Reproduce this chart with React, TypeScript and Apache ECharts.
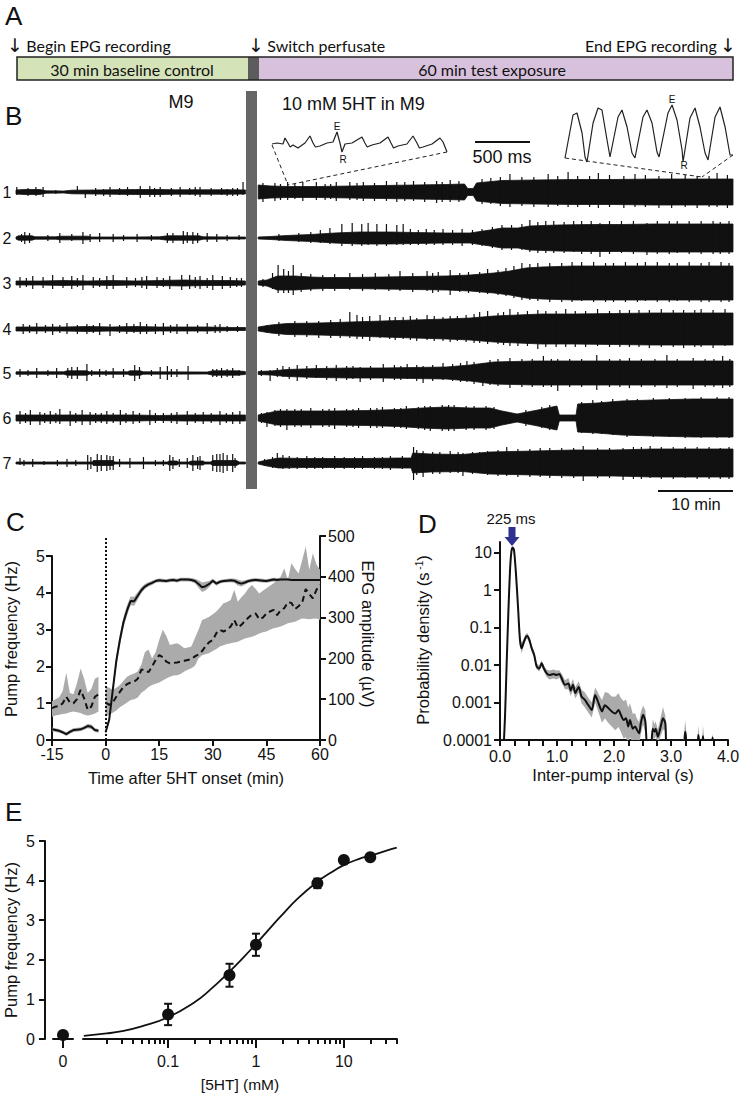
import React, { useEffect, useRef } from "react";
import * as echarts from "echarts";

const F = "Liberation Sans";
const FA = "Lato";
const INK = "#111111";
const BAND = "#ababab";

// ---------------- Panel A ----------------
const timelineMarks = ["Begin EPG recording", "Switch perfusate", "End EPG recording"];
const timelineSegments = ["30 min baseline control", "60 min test exposure"];

// ---------------- Panel B ----------------
const traceNames = ["1", "2", "3", "4", "5", "6", "7"];
// envelope half-heights [time (min), half-height]
const traceBase = [
  [[-30, 2], [-29, 2.5], [-27, 2.5], [-26.2, 1.2], [-24, 1], [-23, 1.8], [-20, 2], [-18, 2.2], [-15, 2.5], [-12, 2.5], [-10, 2.2], [-8, 2.2], [-5, 2.2], [-3, 2.2], [-1.2, 2]],
  [[-30, 1], [-29.7, 2.2], [-28, 2.2], [-27.6, 1.2], [-25, 1.2], [-24.5, 1.8], [-21, 1.8], [-20.5, 1], [-15, 1], [-12, 1.2], [-11, 2.2], [-7, 2.2], [-6.5, 1.2], [-3, 1], [-1.2, 1]],
  [[-30, 2], [-27, 2], [-24, 2.5], [-21, 2], [-18, 2.5], [-15, 2], [-12, 2.5], [-9, 3], [-6, 2.5], [-3, 2.5], [-1.2, 2]],
  [[-30, 2], [-27, 2], [-24, 2], [-21, 2.5], [-18, 2], [-15, 2.5], [-12, 2], [-9, 2], [-6, 2], [-3, 1.5], [-1.2, 1.5]],
  [[-30, 1.2], [-24, 1.2], [-23.6, 2.2], [-21.1, 2.2], [-20.8, 1.2], [-16, 1.2], [-15.7, 2.2], [-14.4, 2.2], [-14, 1.2], [-6, 1], [-5.3, 2.2], [-2.3, 2.2], [-1.2, 1.5]],
  [[-30, 3], [-27, 3], [-24, 3], [-21, 3], [-18, 3], [-15, 3], [-12, 2.5], [-9, 3], [-6, 3], [-3, 3], [-1.2, 3]],
  [[-30, 1], [-20.4, 1], [-20.3, 2.5], [-17.8, 2.5], [-17.6, 1], [-11, 1], [-10.8, 2], [-9.8, 2], [-9.6, 1], [-8.3, 1], [-8, 2], [-6.5, 2], [-6.3, 1], [-5.6, 1], [-5.3, 2.5], [-2.3, 2.5], [-2, 1], [-1.2, 1]],
];
const traceTest = [
  [[0.4, 7], [2, 6], [4, 5.5], [8, 5.5], [12, 6], [16, 6.5], [20, 7], [24, 7.5], [26.3, 8], [26.7, 3.5], [27.4, 3.5], [27.8, 9], [29, 10], [31, 11.5], [35, 12], [40, 12.5], [45, 12.5], [50, 13], [55, 13], [60, 13]],
  [[0.4, 1], [2, 1.5], [4, 2.5], [7, 3.5], [10, 5], [13, 6], [17, 6], [20, 5.5], [24, 5], [27, 5], [29.5, 8], [31, 10], [33, 10], [34.5, 12], [38, 13], [42, 13.5], [46, 13.5], [50, 14], [55, 14], [60, 14]],
  [[0.4, 2], [1.5, 3], [2.8, 7], [5, 7], [7, 6], [9, 5.5], [12, 5.5], [16, 6], [20, 6.5], [24, 7], [27, 8], [30, 10], [32, 12], [34, 15], [36, 16], [40, 17], [45, 17], [50, 17], [55, 17], [60, 17]],
  [[0.4, 2], [2, 4], [4, 5.5], [8, 6], [12, 7], [16, 8], [20, 9], [24, 10], [27, 11], [30, 13], [33, 14], [36, 15], [40, 15], [45, 15.5], [50, 16], [55, 16], [60, 16]],
  [[0.4, 1.5], [2, 2], [4, 3.5], [8, 4.5], [12, 5], [16, 5], [20, 5.5], [24, 6], [27, 8], [30, 11], [35, 12], [40, 12], [45, 12], [50, 12], [55, 12], [60, 12]],
  [[0.4, 3], [2.8, 7], [6, 7], [10, 7], [14, 7.5], [18, 8.5], [21, 10], [24, 11], [27, 10], [29.5, 10], [31, 7], [32.9, 4], [35.5, 8], [37.9, 12], [38.2, 3], [40.3, 3], [40.5, 14], [43, 15], [46, 17], [50, 18], [55, 19], [60, 19]],
  [[0.4, 1], [1.5, 3], [3, 5], [6, 4.5], [10, 4.5], [14, 4.5], [18, 5], [19.6, 5], [19.8, 10], [22, 9], [26, 8.5], [29.5, 11], [35, 12], [40, 13], [45, 13], [50, 14], [55, 14], [60, 14]],
];
// spikes [time (min), up, down]
const traceSpikes = [
  [[-29.9, 5, 3], [-28.5, 4, 4], [-27.5, 5, 4], [-26.6, 5, 5], [-25, 2, 2], [-22.3, 6, 2], [-21.3, 2, 6], [-20, 4, 4], [-19, 3, 4], [-18.2, 5, 5], [-17, 4, 3], [-16, 5, 4], [-14.4, 6, 6], [-13.2, 6, 5], [-12.6, 4, 5], [-11.9, 5, 5], [-10.5, 4, 4], [-9.4, 5, 5], [-8.2, 4, 3], [-7.5, 5, 4], [-6.9, 5, 5], [-5.5, 4, 4], [-4.2, 4, 3], [-3.5, 3, 4], [-2.8, 4, 4], [-2.2, 4, 4], [-1.5, 10, 3],
    [1.0, 9, 10], [2.5, 9, 9], [3.2, 8, 8], [4.1, 10, 8], [5.0, 8, 7], [6.0, 10, 9], [7.7, 10, 8], [8.8, 8, 8], [9.5, 8, 7], [10.2, 10, 9], [11.9, 10, 8], [12.8, 9, 8], [13.6, 10, 9], [15.0, 9, 9], [16.5, 11, 9], [17.8, 10, 10], [18.8, 10, 9], [19.9, 11, 9], [21.3, 10, 10], [22.8, 11, 11], [23.5, 10, 10], [24.5, 12, 10], [25.6, 11, 10], [28.5, 13, 12], [29.6, 14, 12], [30.8, 15, 14], [32.0, 18, 15], [33.5, 15, 14], [35.0, 15, 15], [36.8, 18, 15], [38.0, 16, 14], [39.3, 20, 15], [40.5, 16, 15], [42.0, 16, 15], [43.1, 19, 16], [44.5, 17, 15], [46.3, 16, 16], [47.7, 18, 15], [49.0, 17, 15], [50.7, 16, 16], [52.3, 18, 16], [54.0, 17, 15], [55.5, 16, 16], [57.0, 16, 15], [58.0, 19, 15], [59.3, 17, 16]],
  [[-29.3, 4, 4], [-28.9, 6, 6], [-28.3, 5, 5], [-26.0, 3, 3], [-24.5, 5, 5], [-23.0, 4, 3], [-21.6, 6, 6], [-20.7, 4, 4], [-19.5, 5, 4], [-17.8, 4, 4], [-16.5, 3, 3], [-14.8, 4, 4], [-13.0, 3, 3], [-11.0, 5, 5], [-10.3, 5, 5], [-9.0, 7, 6], [-8.5, 6, 5], [-7.8, 6, 6], [-7.2, 5, 5], [-6.0, 5, 4], [-4.8, 4, 4], [-3.5, 3, 3], [-2.0, 3, 2],
    [3.0, 4, 3], [5.5, 5, 4], [7.0, 6, 5], [8.2, 8, 5], [9.4, 10, 6], [10.9, 14, 8], [12.2, 15, 8], [13.4, 14, 8], [14.2, 15, 7], [15.3, 14, 8], [16.5, 14, 8], [17.8, 13, 7], [18.6, 14, 7], [19.5, 9, 7], [20.5, 8, 7], [21.5, 9, 7], [22.5, 8, 7], [23.6, 9, 7], [24.8, 8, 7], [26.0, 9, 8], [27.3, 8, 7], [28.5, 9, 8], [29.8, 11, 10], [31.0, 13, 12], [32.2, 13, 12], [33.5, 14, 12], [34.5, 18, 14], [35.5, 16, 15], [36.5, 17, 15], [37.5, 17, 15], [38.8, 16, 15], [40.0, 17, 14], [41.0, 17, 16], [42.2, 17, 16], [43.3, 15, 19], [44.5, 17, 16], [46.0, 17, 15], [47.5, 17, 16], [49.2, 15, 17], [50.5, 17, 16], [52.0, 17, 16], [53.0, 17, 15], [54.5, 17, 16], [56.0, 17, 16], [57.5, 17, 16], [58.4, 16, 16], [59.5, 17, 16]],
  [[-29.5, 6, 5], [-28.7, 5, 4], [-27.9, 7, 6], [-26.6, 6, 5], [-25.4, 8, 6], [-24.1, 6, 5], [-23.0, 7, 6], [-22.3, 5, 4], [-21.6, 8, 7], [-20.3, 6, 5], [-19.5, 5, 4], [-18.6, 7, 6], [-17.8, 8, 6], [-16.1, 6, 5], [-15.0, 5, 4], [-14.2, 6, 5], [-13.6, 7, 6], [-12.3, 6, 5], [-11.5, 5, 4], [-10.7, 7, 6], [-9.2, 8, 7], [-8.2, 8, 6], [-7.5, 6, 5], [-6.9, 7, 6], [-6.0, 5, 5], [-5.3, 8, 7], [-4.1, 7, 6], [-3.1, 6, 5], [-2.3, 5, 4], [-1.7, 5, 4],
    [1.0, 4, 4], [2.2, 10, 6], [2.9, 18, 10], [3.6, 14, 10], [4.2, 12, 10], [4.8, 18, 12], [5.8, 10, 9], [7.0, 9, 8], [8.5, 8, 8], [10.0, 9, 8], [11.9, 10, 7], [13.5, 9, 8], [15.1, 10, 7], [16.8, 9, 8], [18.2, 12, 8], [19.8, 10, 9], [21.6, 12, 8], [22.3, 10, 10], [23.0, 11, 9], [24.5, 13, 12], [25.7, 10, 9], [26.8, 11, 10], [28.2, 11, 10], [29.2, 14, 11], [30.5, 13, 12], [31.5, 15, 13], [32.5, 17, 15], [33.5, 20, 17], [34.5, 19, 17], [35.5, 20, 18], [37.0, 20, 19], [38.5, 20, 19], [39.8, 21, 19], [41.0, 21, 18], [42.5, 21, 19], [44.0, 20, 19], [45.0, 20, 19], [46.5, 21, 19], [48.0, 20, 19], [49.0, 21, 18], [50.5, 21, 19], [52.0, 20, 19], [53.0, 20, 18], [54.5, 21, 19], [56.0, 20, 19], [57.0, 21, 19], [58.5, 21, 19], [59.5, 20, 19]],
  [[-29.1, 5, 5], [-28.3, 4, 4], [-27.4, 6, 5], [-26.3, 4, 4], [-25.4, 5, 6], [-24.5, 4, 4], [-23.6, 6, 5], [-22.3, 4, 5], [-21.1, 5, 5], [-20.3, 4, 4], [-19.5, 6, 6], [-18.2, 5, 7], [-17.0, 4, 4], [-16.1, 6, 5], [-15.2, 5, 4], [-14.4, 7, 5], [-13.6, 5, 5], [-12.5, 5, 5], [-11.5, 6, 6], [-10.6, 4, 4], [-9.8, 5, 5], [-8.5, 5, 5], [-7.2, 4, 4], [-6.0, 6, 5], [-5.0, 4, 4], [-4.4, 5, 4], [-3.5, 3, 3], [-2.2, 3, 3],
    [1.5, 4, 4], [3.0, 7, 7], [5.0, 8, 8], [6.5, 8, 8], [8.0, 8, 9], [9.5, 9, 9], [10.7, 10, 9], [11.9, 17, 9], [12.8, 14, 10], [13.5, 12, 10], [14.4, 13, 12], [15.7, 14, 9], [16.9, 12, 10], [17.6, 12, 11], [18.6, 12, 10], [19.5, 13, 11], [20.3, 11, 12], [21.6, 14, 11], [22.5, 13, 12], [23.6, 12, 12], [24.5, 13, 13], [25.4, 13, 12], [26.5, 14, 13], [27.5, 15, 14], [28.2, 17, 14], [29.2, 18, 15], [30.5, 16, 15], [31.2, 17, 16], [32.0, 20, 17], [33.0, 17, 17], [34.2, 18, 17], [35.5, 19, 20], [36.5, 18, 18], [37.8, 18, 18], [39.0, 20, 18], [40.2, 18, 18], [41.5, 18, 18], [43.0, 20, 17], [44.5, 18, 18], [45.8, 19, 18], [47.0, 19, 18], [48.2, 19, 18], [49.5, 19, 19], [51.0, 20, 18], [52.5, 19, 18], [53.8, 19, 19], [55.2, 19, 18], [56.0, 20, 18], [57.5, 19, 19], [59.0, 20, 17]],
  [[-29.5, 4, 4], [-28.5, 3, 3], [-27.4, 5, 5], [-26.0, 3, 3], [-24.9, 5, 5], [-23.5, 5, 5], [-23.0, 6, 6], [-22.3, 6, 6], [-21.1, 9, 8], [-20.5, 3, 3], [-19.5, 4, 4], [-18.7, 3, 3], [-17.8, 5, 5], [-16.5, 4, 4], [-15.1, 8, 8], [-14.5, 6, 6], [-13.0, 3, 3], [-11.9, 6, 6], [-11.0, 7, 7], [-10.5, 4, 4], [-9.8, 4, 4], [-8.4, 7, 7], [-5.3, 4, 4], [-4.8, 4, 4], [-4.2, 5, 5], [-3.5, 4, 4], [-2.8, 5, 5], [-2.0, 3, 3],
    [0.8, 3, 3], [1.9, 3, 8], [2.8, 5, 4], [3.5, 7, 4], [4.3, 6, 6], [5.3, 8, 8], [6.5, 7, 6], [7.7, 8, 5], [9.0, 7, 7], [10.2, 8, 8], [11.5, 7, 7], [12.3, 7, 6], [13.2, 6, 9], [14.5, 7, 7], [16.1, 9, 9], [17.5, 8, 7], [18.3, 7, 7], [19.1, 9, 6], [20.3, 8, 8], [21.1, 7, 10], [22.3, 8, 8], [23.6, 10, 7], [24.8, 9, 8], [25.8, 10, 9], [26.6, 12, 9], [27.5, 11, 11], [28.6, 10, 13], [29.5, 13, 12], [30.5, 14, 13], [32.0, 15, 15], [33.5, 14, 14], [34.8, 14, 14], [36.2, 17, 14], [37.2, 14, 14], [38.0, 14, 18], [39.5, 14, 14], [41.0, 14, 14], [42.9, 18, 17], [44.5, 14, 14], [45.8, 14, 14], [47.0, 15, 15], [48.5, 14, 14], [50.2, 14, 14], [51.7, 18, 15], [53.0, 14, 14], [55.0, 15, 16], [56.5, 14, 14], [57.6, 14, 14], [58.7, 17, 15], [59.6, 14, 14]],
  [[-29.5, 7, 6], [-28.8, 5, 5], [-28.2, 8, 7], [-27.0, 6, 7], [-26.4, 5, 5], [-25.7, 7, 6], [-25.0, 5, 5], [-24.5, 9, 6], [-23.2, 7, 8], [-22.5, 5, 5], [-21.7, 8, 7], [-20.7, 6, 7], [-20.0, 5, 5], [-19.3, 5, 5], [-18.6, 7, 6], [-17.8, 5, 5], [-16.9, 8, 7], [-16.2, 5, 5], [-15.3, 7, 6], [-14.5, 5, 5], [-13.2, 8, 7], [-12.5, 5, 5], [-11.5, 5, 5], [-10.5, 5, 5], [-9.8, 6, 6], [-8.5, 7, 7], [-7.5, 5, 5], [-6.5, 6, 6], [-5.5, 5, 5], [-4.4, 7, 7], [-3.6, 5, 5], [-2.8, 6, 6], [-1.9, 7, 6],
    [0.8, 5, 5], [1.5, 6, 9], [2.5, 8, 8], [3.2, 9, 9], [4.0, 9, 12], [5.0, 9, 9], [5.8, 9, 9], [7.0, 10, 10], [8.5, 9, 9], [9.3, 9, 9], [10.0, 10, 11], [11.5, 9, 9], [12.3, 9, 9], [13.0, 10, 10], [14.5, 10, 10], [15.3, 10, 10], [16.0, 11, 10], [17.5, 10, 10], [18.3, 10, 10], [19.0, 12, 11], [20.5, 11, 11], [21.3, 12, 12], [22.0, 12, 13], [23.5, 13, 13], [24.3, 13, 13], [25.0, 13, 13], [26.5, 12, 12], [27.5, 12, 12], [29.0, 12, 12], [30.0, 11, 11], [34.0, 8, 8], [36.0, 11, 10], [37.0, 13, 12], [41.0, 16, 15], [42.4, 18, 16], [43.5, 17, 16], [44.9, 19, 17], [46.7, 19, 19], [48.0, 19, 18], [50.0, 20, 19], [52.0, 20, 19], [54.0, 20, 20], [56.0, 21, 20], [58.0, 21, 20], [59.5, 21, 20]],
  [[-29.5, 5, 2], [-29.0, 3, 3], [-27.9, 4, 4], [-26.5, 2, 2], [-24.8, 3, 3], [-23.6, 4, 4], [-22.5, 3, 3], [-21.0, 8, 7], [-20.6, 6, 6], [-19.8, 9, 9], [-19.3, 8, 8], [-18.6, 8, 8], [-18.2, 7, 7], [-17.8, 7, 7], [-17.0, 4, 4], [-15.7, 5, 5], [-14.0, 6, 6], [-12.5, 3, 3], [-11.5, 3, 3], [-10.7, 8, 8], [-10.3, 6, 6], [-9.5, 4, 4], [-8.5, 5, 5], [-7.8, 8, 8], [-7.2, 6, 6], [-6.9, 7, 7], [-5.3, 8, 8], [-4.8, 9, 9], [-4.4, 9, 9], [-4.0, 10, 10], [-3.5, 8, 8], [-2.8, 9, 9], [-2.5, 5, 5],
    [1.2, 4, 3], [2.2, 6, 5], [2.8, 10, 5], [3.5, 8, 6], [4.3, 7, 6], [5.3, 6, 6], [6.5, 7, 6], [7.5, 6, 6], [8.5, 6, 6], [10.0, 7, 6], [11.2, 6, 6], [12.5, 6, 6], [13.5, 7, 6], [15.0, 6, 6], [16.0, 6, 6], [17.0, 7, 7], [18.5, 7, 6], [19.9, 16, 17], [20.3, 13, 12], [21.1, 12, 14], [22.3, 11, 11], [23.2, 11, 11], [24.5, 12, 10], [25.5, 11, 10], [26.1, 10, 13], [27.3, 11, 11], [28.2, 11, 10], [29.2, 12, 12], [30.5, 13, 13], [31.6, 16, 13], [33.0, 14, 14], [34.5, 14, 14], [35.8, 15, 14], [37.0, 15, 15], [38.5, 15, 15], [40.0, 15, 15], [41.2, 17, 18], [43.0, 15, 15], [44.5, 15, 15], [46.2, 15, 17], [47.5, 16, 16], [48.5, 16, 16], [49.6, 17, 15], [51.0, 16, 16], [52.5, 16, 16], [54.0, 16, 15], [55.5, 16, 16], [57.0, 16, 16], [58.4, 15, 16], [59.5, 16, 16]],
];
// inset waveforms (time in ms, signal in px-equivalent units)
const leftInsetT = [0, 45, 100, 118, 145, 165, 191, 236, 300, 345, 373, 395, 436, 500, 555, 591, 618, 636, 664, 727, 818, 845, 865, 909, 982, 1055, 1082, 1105, 1145, 1227, 1282, 1318, 1340, 1373, 1455, 1527, 1555, 1591];
const leftInsetV = [1, 2, 1, 7, 2, -2, 0, -3, 2, 9, 2, -2, -1, 2, 3, 13, 2, -7, 1, 2, 8, 2, -2, 0, 2, 8, 2, -3, -1, 1, 9, 2, -3, -2, 1, 7, 3, -7];
const rightInsetT = [0, 73, 109, 155, 182, 200, 255, 300, 336, 382, 409, 482, 518, 564, 609, 636, 709, 745, 791, 836, 855, 936, 973, 1018, 1064, 1073, 1136, 1182, 1227, 1273, 1300, 1364, 1409, 1455, 1500, 1527];
const rightInsetV = [2, 45, 47, 27, 3, -2, 37, 52, 50, 20, 3, 43, 50, 33, 7, 2, 43, 50, 37, 8, 3, 47, 55, 40, 10, -2, 42, 52, 33, 7, 0, 43, 53, 33, 5, 5];

// ---------------- Panel C ----------------
const cTimeBase = [-15, -14, -13, -12, -11, -10, -9, -8, -7, -6, -5, -4, -3, -2];
const cFreqBase = [0.29, 0.27, 0.25, 0.21, 0.16, 0.22, 0.27, 0.28, 0.29, 0.33, 0.38, 0.36, 0.27, 0.25];
const cFreqBaseSem = [0.05, 0.05, 0.05, 0.05, 0.05, 0.05, 0.05, 0.05, 0.05, 0.05, 0.06, 0.06, 0.05, 0.05];
const cAmpBase = [78, 82, 82, 90, 106, 92, 90, 100, 123, 102, 74, 82, 106, 112];
const cAmpBaseLo = [57, 60, 62, 64, 65, 68, 70, 68, 66, 62, 60, 62, 65, 70];
const cAmpBaseHi = [95, 100, 105, 120, 165, 115, 112, 140, 175, 150, 115, 125, 150, 155];
const cTimeTest = [0, 1, 2, 3, 4, 5, 6, 7, 8, 9, 10, 11, 12, 13, 14, 15, 16, 17, 18, 19, 20, 21, 22, 23, 24, 25, 26, 27, 28, 29, 30, 31, 32, 33, 34, 35, 36, 37, 38, 39, 40, 41, 42, 43, 44, 45, 46, 47, 48, 49, 50, 51, 52, 53, 54, 55, 56, 57, 58, 59, 60];
const cFreqTest = [0.21, 0.55, 1.35, 2.15, 2.72, 3.2, 3.52, 3.78, 3.77, 3.92, 4.07, 4.17, 4.23, 4.27, 4.32, 4.34, 4.33, 4.32, 4.34, 4.35, 4.33, 4.36, 4.36, 4.36, 4.35, 4.32, 4.24, 4.15, 4.18, 4.24, 4.33, 4.25, 4.3, 4.32, 4.33, 4.34, 4.33, 4.28, 4.25, 4.28, 4.32, 4.34, 4.35, 4.34, 4.33, 4.32, 4.34, 4.36, 4.35, 4.36, 4.36, 4.36, 4.35, 4.35, 4.35, 4.35, 4.35, 4.35, 4.35, 4.35, 4.35];
const cFreqTestSem = [0.05, 0.08, 0.12, 0.15, 0.15, 0.15, 0.14, 0.12, 0.12, 0.1, 0.08, 0.07, 0.06, 0.06, 0.05, 0.05, 0.05, 0.05, 0.05, 0.05, 0.05, 0.05, 0.05, 0.05, 0.05, 0.06, 0.1, 0.13, 0.12, 0.08, 0.06, 0.06, 0.05, 0.05, 0.05, 0.05, 0.06, 0.08, 0.08, 0.06, 0.05, 0.05, 0.05, 0.05, 0.05, 0.05, 0.05, 0.05, 0.05, 0.05, 0.05, 0.05, 0.05, 0.05, 0.05, 0.05, 0.05, 0.05, 0.05, 0.05, 0.05];
const cAmpTest = [92, 86, 92, 106, 118, 130, 137, 141, 143, 150, 172, 172, 166, 180, 196, 208, 203, 192, 188, 189, 190, 192, 194, 196, 198, 205, 210, 218, 230, 240, 245, 262, 270, 266, 270, 278, 294, 276, 282, 292, 300, 308, 310, 296, 300, 310, 315, 319, 306, 318, 323, 338, 336, 321, 328, 336, 370, 358, 347, 368, 380];
const cAmpTestHi = [131, 128, 123, 128, 135, 145, 155, 160, 163, 168, 185, 215, 222, 200, 215, 245, 270, 255, 233, 235, 237, 232, 225, 227, 229, 250, 270, 294, 298, 302, 308, 315, 325, 335, 338, 343, 368, 339, 350, 359, 372, 380, 370, 359, 366, 372, 378, 384, 392, 400, 421, 392, 433, 420, 408, 440, 474, 417, 458, 430, 417];
const cAmpTestLo = [57, 62, 67, 72, 80, 86, 92, 98, 100, 104, 116, 122, 130, 135, 138, 141, 146, 151, 155, 158, 159, 162, 168, 172, 176, 182, 200, 208, 210, 213, 218, 223, 229, 232, 235, 237, 239, 241, 245, 249, 251, 253, 257, 261, 264, 266, 270, 274, 276, 278, 282, 286, 288, 290, 294, 298, 297, 296, 297, 298, 294];

// ---------------- Panel D ----------------
const dInterval = [0.06, 0.088, 0.117, 0.146, 0.176, 0.2, 0.222, 0.246, 0.28, 0.316, 0.35, 0.38, 0.41, 0.457, 0.48, 0.515, 0.556, 0.6, 0.644, 0.69, 0.73, 0.77, 0.82, 0.867, 0.937, 0.995, 1.04, 1.08, 1.14, 1.2, 1.24, 1.28, 1.32, 1.38, 1.43, 1.49, 1.55, 1.61, 1.67, 1.73, 1.79, 1.84, 1.9, 1.96, 2.02, 2.08, 2.12, 2.17, 2.21, 2.25, 2.28, 2.33, 2.37, 2.4, 2.44, 2.47, 2.51, 2.55, 2.59, 2.64, 2.68, 2.71, 2.73, 2.77, 2.82, 2.86, 2.9, 2.94, 3.2, 3.25, 3.3, 3.45, 3.48, 3.52, 3.54, 3.56, 3.6, 3.7, 3.73, 3.76];
const dDensity = [0.00005, 0.00042, 0.0112, 0.24, 3.47, 10.7, 13.8, 11.7, 2.8, 0.36, 0.047, 0.028, 0.038, 0.058, 0.06, 0.047, 0.028, 0.0186, 0.0091, 0.0081, 0.0112, 0.0081, 0.006, 0.0054, 0.0058, 0.0054, 0.0058, 0.0045, 0.003, 0.0032, 0.0021, 0.003, 0.0018, 0.0026, 0.00145, 0.00117, 0.00085, 0.00063, 0.00158, 0.00095, 0.00058, 0.00085, 0.00071, 0.00058, 0.00051, 0.00063, 0.00047, 0.00034, 0.00038, 0.00023, 0.00034, 0.0002, 0.00023, 0.00019, 0.00015, 0.00028, 0.00047, 0.00031, 0.00005, 0.00005, 0.0002, 0.000166, 0.0002, 0.000123, 0.00023, 0.00038, 0.00028, 0.00005, 0.00005, 0.000166, 0.00005, 0.00005, 0.000135, 0.00005, 0.00005, 0.000126, 0.00005, 0.00005, 0.000117, 0.00005];
// spread of the grey SEM band, in decades
const dSpread = [0.02, 0.02, 0.02, 0.02, 0.02, 0.02, 0.02, 0.02, 0.05, 0.08, 0.15, 0.14, 0.1, 0.08, 0.08, 0.08, 0.1, 0.08, 0.08, 0.08, 0.08, 0.08, 0.1, 0.12, 0.12, 0.12, 0.1, 0.12, 0.12, 0.15, 0.15, 0.15, 0.15, 0.15, 0.18, 0.2, 0.2, 0.2, 0.2, 0.25, 0.3, 0.35, 0.4, 0.4, 0.45, 0.45, 0.45, 0.5, 0.5, 0.5, 0.45, 0.4, 0.35, 0.3, 0.3, 0.3, 0.25, 0.3, 0.02, 0.02, 0.25, 0.2, 0.2, 0.2, 0.25, 0.3, 0.2, 0.02, 0.02, 0.3, 0.02, 0.02, 0.25, 0.02, 0.02, 0.3, 0.02, 0.02, 0.1, 0.02];
const dTickExp = [-4, -3, -2, -1, 0, 1];
const dTickLabels = ["0.0001", "0.001", "0.01", "0.1", "1", "10"];
const dXLabels = [0, 1, 2, 3, 4];

// ---------------- Panel E ----------------
const eConc = [0.1, 0.5, 1, 5, 10, 20];
const eFreq = [0.62, 1.61, 2.38, 3.93, 4.52, 4.59];
const eSem = [0.27, 0.29, 0.28, 0.12, 0.04, 0.04];
const eControlFreq = 0.1;
const eFitConc = [0.011, 0.02, 0.03, 0.05, 0.1, 0.2, 0.3, 0.5, 0.7, 1, 1.5, 2, 3, 5, 7, 10, 15, 20, 30, 40];
const eFitFreq = [0.08, 0.14, 0.2, 0.32, 0.55, 0.93, 1.24, 1.7, 2.03, 2.4, 2.84, 3.14, 3.55, 3.97, 4.19, 4.39, 4.55, 4.63, 4.75, 4.83];
const eMajorTicks = [0.1, 1, 10];
const eMajorLabels = ["0.1", "1", "10"];
const eMinorTicks = [0.02, 0.03, 0.04, 0.05, 0.06, 0.07, 0.08, 0.09, 0.2, 0.3, 0.4, 0.5, 0.6, 0.7, 0.8, 0.9, 2, 3, 4, 5, 6, 7, 8, 9, 20, 30, 40];

// ---------------- layout ----------------
const TRACE_PY = [192, 238, 283, 329, 373, 418, 463];
const B_BOTTOM = 490;

const axLine = { show: true, onZero: false, lineStyle: { color: INK, width: 2 } };
const axTick = (len: number) => ({ show: true, length: len, lineStyle: { color: INK, width: 2 } });
const axLabel = (margin: number, extra: any = {}) => ({ color: INK, fontSize: 16, fontFamily: F, margin, ...extra });
const hiddenAxis = (gridIndex: number, min: number, max: number) => ({
  type: "value", gridIndex, min, max, show: false, splitLine: { show: false }, axisLine: { show: false, onZero: false },
});

function bandSeries(xs: number[], lo: number[], hi: number[], xi: number, yi: number, clip = false) {
  return {
    type: "custom", xAxisIndex: xi, yAxisIndex: yi, silent: true, clip, z: 1,
    data: [[xs[0], lo[0]]],
    encode: { x: 0, y: 1 },
    renderItem: (_p: any, api: any) => {
      const pts: number[][] = [];
      for (let i = 0; i < xs.length; i++) pts.push(api.coord([xs[i], hi[i]]));
      for (let i = xs.length - 1; i >= 0; i--) pts.push(api.coord([xs[i], lo[i]]));
      return { type: "polygon", shape: { points: pts }, style: { fill: BAND } };
    },
  };
}

function txt(x: number, y: number, text: string, size: number, align = "left", family = F, rotation = 0) {
  return {
    type: "text", x, y, rotation, silent: true,
    style: { text, fontSize: size, fontFamily: family, fill: INK, align, verticalAlign: "middle" },
  };
}

// Panel A header text with a plain black arrow glyph
function arrowTxt(x: number, y: number, text: string, align: string, arrowFirst: boolean) {
  const body = arrowFirst ? `{arr|↓} {t|${text}}` : `{t|${text}} {arr|↓}`;
  return {
    type: "text", x, y, silent: true,
    style: {
      text: body, align, verticalAlign: "middle", fill: INK,
      rich: {
        t: { fontSize: 16, fontFamily: FA, fill: INK },
        arr: { fontSize: 19, fontFamily: "DejaVu Sans", fill: INK },
      },
    },
  };
}

function buildOption() {
  const envs: { c: number; pts: number[][] }[] = [];
  traceBase.forEach((b, i) => {
    const c = B_BOTTOM - TRACE_PY[i];
    envs.push({ c, pts: b });
    envs.push({ c, pts: traceTest[i] });
  });
  const spikeData: number[][] = [];
  traceSpikes.forEach((list, i) => {
    const c = B_BOTTOM - TRACE_PY[i];
    list.forEach(([t, u, d]) => spikeData.push([t, c + u, c - d]));
  });

  const lg = (v: number) => Math.log10(v);

  const grid = [
    { left: 16, top: 90, width: 717, height: 400 }, // 0 B traces
    { left: 272, top: 120, width: 175, height: 40 }, // 1 left inset
    { left: 565, top: 95, width: 168, height: 70 }, // 2 right inset
    { left: 52, top: 556, width: 268, height: 184 }, // 3 C freq
    { left: 52, top: 536, width: 268, height: 204 }, // 4 C amp
    { left: 500, top: 542, width: 228, height: 198 }, // 5 D
    { left: 83, top: 841, width: 314, height: 198 }, // 6 E log
    { left: 53, top: 841, width: 20, height: 198 }, // 7 E zero
  ].map((g) => ({ ...g, containLabel: false, outerBoundsMode: "none" }));

  const xAxis: any[] = [
    hiddenAxis(0, -30, 60),
    hiddenAxis(1, 0, 1591),
    hiddenAxis(2, 0, 1527),
    {
      type: "value", gridIndex: 3, min: -15, max: 60, interval: 15, position: "bottom",
      axisLine: axLine, axisTick: axTick(6), axisLabel: axLabel(6), splitLine: { show: false },
    },
    hiddenAxis(4, -15, 60),
    {
      type: "value", gridIndex: 5, min: 0, max: 4, interval: 0.25, position: "bottom",
      axisLine: axLine, axisTick: axTick(6),
      axisLabel: axLabel(8, { customValues: dXLabels, formatter: (v: number) => v.toFixed(1) }),
      splitLine: { show: false },
    },
    {
      type: "value", gridIndex: 6, min: -1.968, max: 1.605, position: "bottom",
      axisLine: axLine,
      axisTick: { ...axTick(9), customValues: eMajorTicks.map(lg) },
      axisLabel: axLabel(14, {
        customValues: eMajorTicks.map(lg),
        formatter: (v: number) => eMajorLabels[Math.round(v) + 1],
      }),
      splitLine: { show: false },
    },
    {
      type: "value", gridIndex: 6, min: -1.968, max: 1.605, position: "bottom",
      axisLine: { show: false, onZero: false },
      axisTick: { ...axTick(5), customValues: eMinorTicks.map(lg) },
      axisLabel: { show: false }, splitLine: { show: false },
    },
    {
      type: "value", gridIndex: 7, min: -1, max: 1, position: "bottom",
      axisLine: axLine,
      axisTick: { ...axTick(9), customValues: [0] },
      axisLabel: axLabel(14, { customValues: [0], formatter: () => "0" }),
      splitLine: { show: false },
    },
  ];

  const yAxis: any[] = [
    hiddenAxis(0, 0, 400),
    hiddenAxis(1, -15, 25),
    hiddenAxis(2, -5, 65),
    {
      type: "value", gridIndex: 3, min: 0, max: 5, interval: 1, position: "left",
      axisLine: axLine, axisTick: axTick(6), axisLabel: axLabel(7), splitLine: { show: false },
    },
    {
      type: "value", gridIndex: 4, min: 0, max: 500, interval: 100, position: "right",
      axisLine: axLine, axisTick: axTick(6), axisLabel: axLabel(8), splitLine: { show: false },
    },
    {
      type: "value", gridIndex: 5, min: -4, max: 1.285, position: "left",
      axisLine: axLine,
      axisTick: { ...axTick(6), customValues: dTickExp },
      axisLabel: axLabel(8, { customValues: dTickExp, formatter: (v: number) => dTickLabels[Math.round(v) + 4] }),
      splitLine: { show: false },
    },
    {
      type: "value", gridIndex: 6, min: 0, max: 5, interval: 1, position: "left", offset: 38,
      axisLine: axLine, axisTick: axTick(6), axisLabel: axLabel(10), splitLine: { show: false },
    },
    hiddenAxis(7, 0, 5),
  ];

  const series: any[] = [
    // ---- B traces
    {
      type: "custom", xAxisIndex: 0, yAxisIndex: 0, silent: true,
      data: envs.map((e, k) => [e.pts[0][0], e.c, k]),
      encode: { x: 0, y: 1 },
      renderItem: (params: any, api: any) => {
        const e = envs[params.dataIndex];
        const up = e.pts.map(([t, h]) => api.coord([t, e.c + h]));
        const dn = e.pts.slice().reverse().map(([t, h]) => api.coord([t, e.c - h]));
        return { type: "polygon", shape: { points: up.concat(dn) }, style: { fill: INK, stroke: INK, lineWidth: 0.8 } };
      },
    },
    {
      type: "custom", xAxisIndex: 0, yAxisIndex: 0, silent: true,
      data: spikeData, encode: { x: 0, y: [1, 2] },
      renderItem: (_p: any, api: any) => {
        const a = api.coord([api.value(0), api.value(1)]);
        const b = api.coord([api.value(0), api.value(2)]);
        return { type: "line", shape: { x1: a[0], y1: a[1], x2: b[0], y2: b[1] }, style: { stroke: INK, lineWidth: 1.2 } };
      },
    },
    {
      type: "line", xAxisIndex: 1, yAxisIndex: 1, silent: true, symbol: "none",
      data: leftInsetT.map((t, i) => [t, leftInsetV[i]]),
      lineStyle: { color: "#222", width: 1.2 },
    },
    {
      type: "line", xAxisIndex: 2, yAxisIndex: 2, silent: true, symbol: "none",
      data: rightInsetT.map((t, i) => [t, rightInsetV[i]]),
      lineStyle: { color: "#222", width: 1.2 },
    },
    // ---- C bands
    bandSeries(cTimeBase, cAmpBaseLo, cAmpBaseHi, 4, 4),
    bandSeries(cTimeTest, cAmpTestLo, cAmpTestHi, 4, 4),
    bandSeries(cTimeBase, cFreqBase.map((v, i) => v - cFreqBaseSem[i]), cFreqBase.map((v, i) => v + cFreqBaseSem[i]), 3, 3),
    bandSeries(cTimeTest, cFreqTest.map((v, i) => v - cFreqTestSem[i]), cFreqTest.map((v, i) => v + cFreqTestSem[i]), 3, 3),
    // ---- C lines
    {
      type: "line", xAxisIndex: 4, yAxisIndex: 4, silent: true, symbol: "none",
      data: cTimeBase.map((t, i) => [t, cAmpBase[i]]),
      lineStyle: { color: INK, width: 2, type: [6, 4] },
    },
    {
      type: "line", xAxisIndex: 4, yAxisIndex: 4, silent: true, symbol: "none",
      data: cTimeTest.map((t, i) => [t, cAmpTest[i]]),
      lineStyle: { color: INK, width: 2, type: [6, 4] },
      markLine: {
        silent: true, symbol: ["none", "none"], label: { show: false },
        lineStyle: { color: INK, width: 2, type: [2, 2] },
        data: [{ xAxis: 0 }],
      },
    },
    {
      type: "line", xAxisIndex: 3, yAxisIndex: 3, silent: true, symbol: "none",
      data: cTimeBase.map((t, i) => [t, cFreqBase[i]]),
      lineStyle: { color: INK, width: 2 },
    },
    {
      type: "line", xAxisIndex: 3, yAxisIndex: 3, silent: true, symbol: "none",
      data: cTimeTest.map((t, i) => [t, cFreqTest[i]]),
      lineStyle: { color: INK, width: 2 },
    },
    // ---- D
    bandSeries(
      dInterval,
      dDensity.map((v, i) => lg(v) - dSpread[i]),
      dDensity.map((v, i) => lg(v) + dSpread[i]),
      5, 5, true
    ),
    {
      type: "line", xAxisIndex: 5, yAxisIndex: 5, silent: true, symbol: "none", smooth: 0.25, clip: true,
      data: dInterval.map((t, i) => [t, lg(dDensity[i])]),
      lineStyle: { color: INK, width: 2 },
    },
    // ---- E
    {
      type: "line", xAxisIndex: 6, yAxisIndex: 6, silent: true, symbol: "none", smooth: true,
      data: eFitConc.map((c, i) => [lg(c), eFitFreq[i]]),
      lineStyle: { color: INK, width: 1.8 },
    },
    {
      type: "custom", xAxisIndex: 6, yAxisIndex: 6, silent: true,
      data: eConc.map((c, i) => [lg(c), eFreq[i] - eSem[i], eFreq[i] + eSem[i]]),
      encode: { x: 0, y: [1, 2] },
      renderItem: (_p: any, api: any) => {
        const a = api.coord([api.value(0), api.value(1)]);
        const b = api.coord([api.value(0), api.value(2)]);
        const w = 4;
        const st = { stroke: INK, lineWidth: 2 };
        return {
          type: "group",
          children: [
            { type: "line", shape: { x1: a[0], y1: a[1], x2: b[0], y2: b[1] }, style: st },
            { type: "line", shape: { x1: a[0] - w, y1: a[1], x2: a[0] + w, y2: a[1] }, style: st },
            { type: "line", shape: { x1: b[0] - w, y1: b[1], x2: b[0] + w, y2: b[1] }, style: st },
          ],
        };
      },
    },
    {
      type: "scatter", xAxisIndex: 6, yAxisIndex: 6, silent: true, symbolSize: 12, z: 5,
      data: eConc.map((c, i) => [lg(c), eFreq[i]]),
      itemStyle: { color: INK, opacity: 1 },
    },
    {
      type: "scatter", xAxisIndex: 8, yAxisIndex: 7, silent: true, symbolSize: 12, clip: false, z: 5,
      data: [[0, eControlFreq]],
      itemStyle: { color: INK, opacity: 1 },
    },
  ];

  const dash = [4, 3];
  const graphic: any[] = [
    // panel letters
    txt(5, 16, "A", 26),
    txt(5, 116, "B", 26),
    txt(6, 522, "C", 26),
    txt(418, 524, "D", 26),
    txt(5, 812, "E", 26),
    // panel A
    { type: "rect", silent: true, shape: { x: 17, y: 57, width: 231, height: 23 }, style: { fill: "#d5e3b9" } },
    { type: "rect", silent: true, shape: { x: 248, y: 57, width: 11, height: 23 }, style: { fill: "#5c5c5c" } },
    { type: "rect", silent: true, shape: { x: 259, y: 57, width: 474, height: 23 }, style: { fill: "#d8c1dc" } },
    { type: "rect", silent: true, shape: { x: 17, y: 57, width: 716, height: 23 }, style: { fill: "none", stroke: "#222", lineWidth: 1.5 } },
    arrowTxt(7, 45, timelineMarks[0], "left", true),
    arrowTxt(248, 45, timelineMarks[1], "left", true),
    arrowTxt(736, 45, timelineMarks[2], "right", false),
    txt(132, 69, timelineSegments[0], 16, "center", FA),
    txt(492, 69, timelineSegments[1], 16, "center", FA),
    // panel B
    { type: "rect", silent: true, shape: { x: 246, y: 91, width: 11, height: 398 }, style: { fill: "#666666" } },
    txt(181, 102, "M9", 18, "center"),
    txt(282, 104, "10 mM 5HT in M9", 18, "left"),
    { type: "line", silent: true, shape: { x1: 272, y1: 145, x2: 288, y2: 185 }, style: { stroke: "#222", lineWidth: 1, lineDash: dash } },
    { type: "line", silent: true, shape: { x1: 447, y1: 152, x2: 288, y2: 185 }, style: { stroke: "#222", lineWidth: 1, lineDash: dash } },
    { type: "line", silent: true, shape: { x1: 565, y1: 158, x2: 702, y2: 177 }, style: { stroke: "#222", lineWidth: 1, lineDash: dash } },
    { type: "line", silent: true, shape: { x1: 733, y1: 155, x2: 702, y2: 177 }, style: { stroke: "#222", lineWidth: 1, lineDash: dash } },
    txt(337, 126, "E", 10, "center"),
    txt(343, 159, "R", 10, "center"),
    txt(672, 99, "E", 10, "center"),
    txt(684, 165, "R", 10, "center"),
    { type: "line", silent: true, shape: { x1: 475, y1: 142, x2: 530, y2: 142 }, style: { stroke: INK, lineWidth: 2 } },
    txt(502, 157, "500 ms", 18, "center"),
    { type: "line", silent: true, shape: { x1: 658, y1: 491, x2: 733, y2: 491 }, style: { stroke: INK, lineWidth: 2 } },
    txt(696, 504, "10 min", 16.5, "center"),
    ...traceNames.map((n, i) => txt(7, TRACE_PY[i], n, 16, "center")),
    // panel C titles
    txt(11, 639, "Pump frequency (Hz)", 16.5, "center", F, Math.PI / 2),
    txt(368, 634, "EPG amplitude (µV)", 16.5, "center", F, -Math.PI / 2),
    txt(186, 778, "Time after 5HT onset (min)", 16.5, "center"),
    // panel D
    {
      type: "text", x: 423, y: 640, rotation: Math.PI / 2, silent: true,
      style: {
        text: "{a|Probability density (s}{b| -1}{a|)}",
        align: "center", verticalAlign: "middle", fill: INK,
        rich: {
          a: { fontSize: 16.5, fontFamily: F, fill: INK },
          b: { fontSize: 10, fontFamily: F, fill: INK, verticalAlign: "top" },
        },
      },
    },
    txt(613, 775, "Inter-pump interval (s)", 16.5, "center"),
    txt(511, 518, "225 ms", 15, "center"),
    {
      type: "polygon", silent: true,
      shape: { points: [[508.5, 527], [515.5, 527], [515.5, 537], [519.5, 537], [512, 546], [504.5, 537], [508.5, 537]] },
      style: { fill: "#2e3192" },
    },
    // panel E titles
    txt(11, 940, "Pump frequency (Hz)", 16.5, "center", F, Math.PI / 2),
    txt(240, 1084, "[5HT] (mM)", 15.5, "center"),
  ];

  return {
    animation: false,
    backgroundColor: "#ffffff",
    grid, xAxis, yAxis, series, graphic,
  };
}

export default function App() {
  const ref = useRef<HTMLDivElement>(null);
  useEffect(() => {
    const chart = echarts.init(ref.current as HTMLDivElement, null, { renderer: "svg" });
    chart.setOption(buildOption() as any);
    return () => chart.dispose();
  }, []);
  return (
    <div
      ref={ref}
      style={{ position: "absolute", left: 0, top: 0, width: 740, height: 1093, background: "#fff" }}
    />
  );
}
